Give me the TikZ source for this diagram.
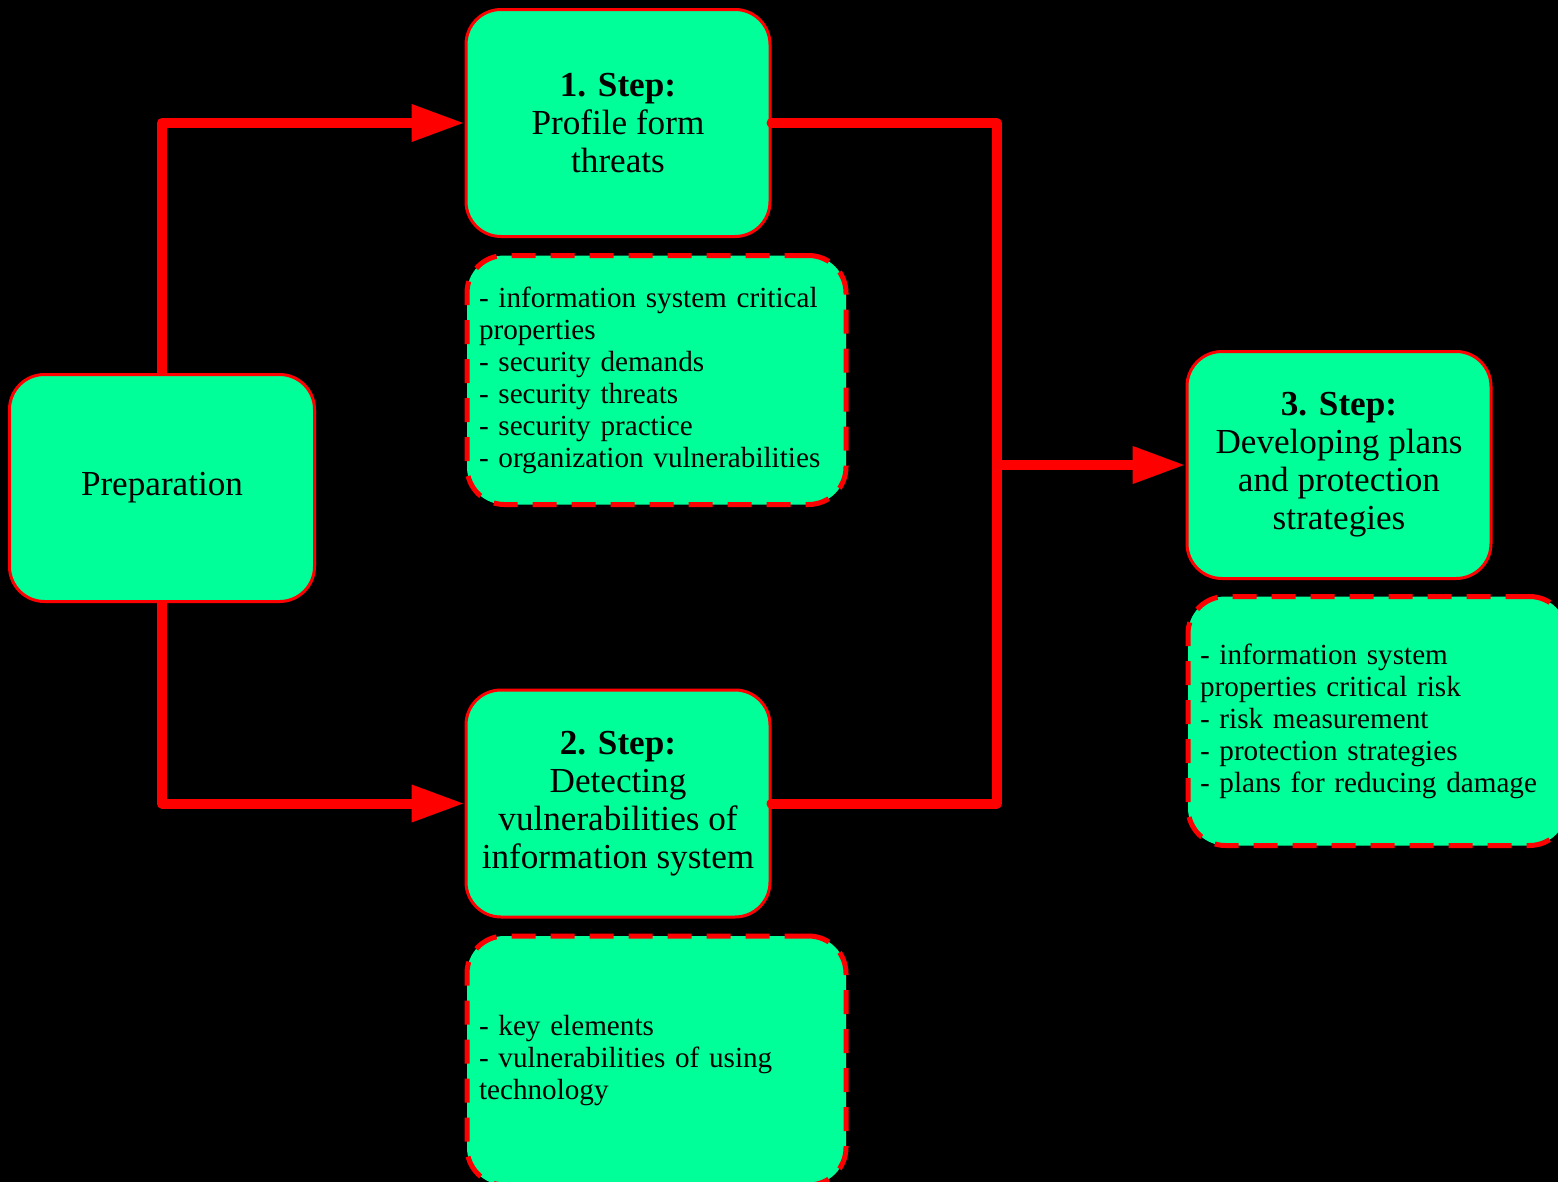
\documentclass[tikz,border=0pt]{standalone}
\usepackage{fontspec}
\setmainfont{Liberation Serif}
\usepackage{tikz}
\usetikzlibrary{arrows.meta,positioning}
\definecolor{stepgreen}{RGB}{0,255,153}
\definecolor{linered}{RGB}{255,0,0}

\begin{document}
\begin{tikzpicture}[
        >=Triangle,
        blk/.style={draw=linered, line width=0.06cm, rounded corners=0.7cm, fill=stepgreen,
            align=center, minimum width=6.08cm, minimum height=4.54cm,
            font=\fontsize{20}{21.6}\selectfont},
        note/.style={draw=linered, line width=0.1cm, dash pattern=on 0.48cm off 0.3cm,
            rounded corners=0.75cm, fill=stepgreen, align=left, text width=7.1cm,
            inner xsep=0.24cm, minimum height=4.98cm,
            font=\fontsize{16.6}{18.2}\selectfont},
        line/.style={-{Triangle[length=1.06cm, width=0.7cm]}, linered, line width=0.2cm,
            line join=round},
        wire/.style={linered, line width=0.2cm, line cap=round, line join=round}]
        \useasboundingbox (0,0) rectangle (31.16,-23.64);
        \fill[black] (0,0) rectangle (31.16,-23.64);
        \node[blk, minimum width=6.1cm] (prep) at (3.24,-9.76) {Preparation};
        \node[blk] (s1) at (12.36,-2.46) {\textbf{1. Step:}\\ Profile form\\ threats};
        \node[blk] (s2) at (12.36,-16.07) {\textbf{2. Step:}\\ Detecting\\ vulnerabilities of\\ information system};
        \node[blk] (s3) at (26.78,-9.3) {\textbf{3. Step:}\\ Developing plans\\ and protection\\ strategies};
        \node[note, below=0.3cm of s1.south west, anchor=north west] (n1)
            {- information system critical\\ properties\\ - security demands\\ - security threats\\
             - security practice\\ - organization vulnerabilities};
        \node[note, below=0.3cm of s2.south west, anchor=north west] (n2)
            {- key elements\\ - vulnerabilities of using\\ technology};
        \node[note, below=0.28cm of s3.south west, anchor=north west] (n3)
            {- information system\\ properties critical risk\\ - risk measurement\\
             - protection strategies\\ - plans for reducing damage};
        \coordinate[left=3.78cm of s3.west] (jn);
        % connections
        \draw[line] (prep.north) |- (s1.west);
        \draw[line] (prep.south) |- (s2.west);
        \draw[wire] (s1.east) -| (jn) |- (s2.east);
        \draw[line] (jn) -- (s3.west);
    \end{tikzpicture}
\end{document}
